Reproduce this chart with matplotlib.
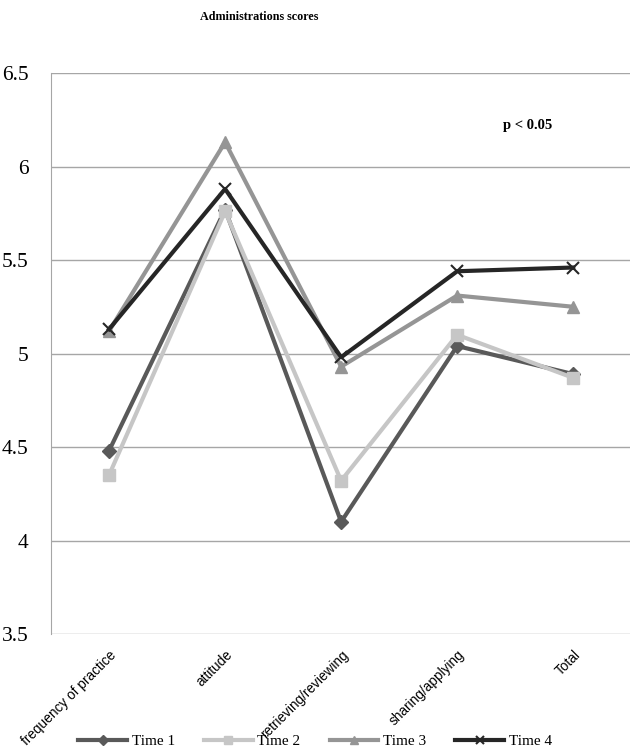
import matplotlib.pyplot as plt

categories = ["frequency of practice", "attitude", "retrieving/reviewing", "sharing/applying", "Total"]
series_names = ["Time 1", "Time 2", "Time 3", "Time 4"]
time1 = [4.48, 5.77, 4.10, 5.04, 4.89]
time2 = [4.35, 5.76, 4.32, 5.10, 4.87]
time3 = [5.12, 6.13, 4.93, 5.31, 5.25]
time4 = [5.13, 5.88, 4.98, 5.44, 5.46]
yticks = [3.5, 4, 4.5, 5, 5.5, 6, 6.5]
ytick_labels = ["3.5", "4", "4.5", "5", "5.5", "6", "6.5"]

colors = ["#595959", "#c6c6c6", "#959595", "#262626"]
markers = ["D", "s", "^", "x"]
msizes = [7, 9, 8, 9]

fig = plt.figure(figsize=(6.3, 7.49), dpi=100)
ax = fig.add_axes([0.081, 0.1535, 0.921, 0.749])

x = list(range(len(categories)))
for vals, name, c, m, ms in zip([time1, time2, time3, time4], series_names, colors, markers, msizes):
    ax.plot(x, vals, color=c, lw=3, marker=m, ms=ms, mew=1.5 if m == "x" else 1,
            mec=c, mfc=c, label=name)

ax.set_ylim(3.5, 6.5)
ax.set_xlim(-0.5, 4.5)
ax.set_yticks(yticks)
ax.set_yticklabels(ytick_labels, family="Liberation Serif", fontsize=15.5)
ax.yaxis.grid(True, color="#a6a6a6", lw=1)
ax.set_axisbelow(True)
ax.tick_params(axis="y", length=0, pad=16)
ax.tick_params(axis="x", length=0, pad=10)
ax.set_xticks(x)
ax.set_xticklabels(categories, rotation=45, ha="right", rotation_mode="anchor",
                   family="Liberation Sans", fontsize=9.8)
for s in ["top", "right", "bottom"]:
    ax.spines[s].set_visible(False)
ax.spines["left"].set_color("#a6a6a6")

fig.text(0.411, 0.985, "Administrations scores", ha="center", va="top",
         family="Liberation Serif", fontweight="bold", fontsize=8.7)
ax.text(0.779, 0.907, "p < 0.05", transform=ax.transAxes, ha="left", va="center",
        family="Liberation Serif", fontweight="bold", fontsize=10.5)

fig.legend(loc="lower center", ncol=4, bbox_to_anchor=(0.5, -0.017), frameon=False,
           prop={"family": "Liberation Serif", "size": 11}, handlelength=3.2,
           columnspacing=1.9, handletextpad=0.3, markerscale=0.7)

fig.savefig("out.png", dpi=100)
